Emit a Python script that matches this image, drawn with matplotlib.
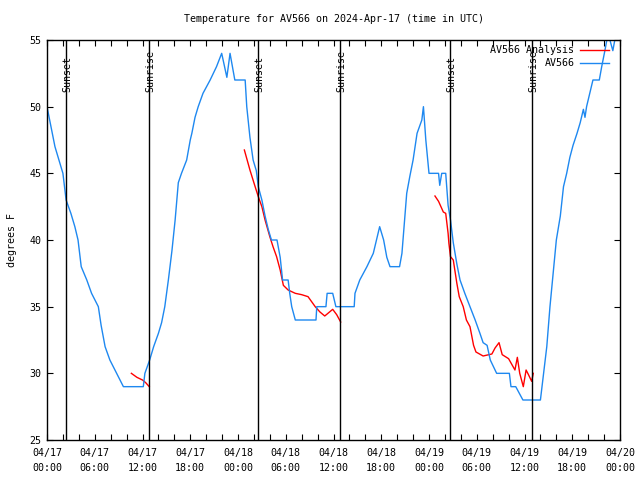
import matplotlib
matplotlib.use("Agg")
import matplotlib.pyplot as plt
import numpy as np

# hours since 2024-04-17 00:00 UTC
obs_hours = [0.0, 0.5, 1.0, 1.5, 2.0, 2.4, 3.0, 3.5, 3.9, 4.3, 5.0, 5.6, 6.45, 6.8, 7.3, 7.9, 8.75, 9.6,
             12.1, 12.3, 12.9, 13.4, 14.0, 14.4, 14.8, 15.25, 15.7, 16.1, 16.5, 16.9, 17.55, 18.0, 18.2,
             18.6, 19.0, 19.6, 20.5, 21.3, 21.95, 22.6, 23.0, 23.6, 24.9, 25.1, 25.5, 25.9, 26.3, 26.55,
             27.0, 27.4, 27.8, 28.2, 28.9, 29.3, 29.6, 30.3, 30.5, 30.75, 31.2, 33.8, 33.9, 35.05, 35.2,
             35.9, 36.3, 38.6, 38.7, 39.3, 40.2, 41.0, 41.4, 41.8, 42.3, 42.7, 43.1, 44.3, 44.6, 44.9,
             45.2, 45.6, 46.0, 46.5, 47.1, 47.3, 47.6, 48.0, 49.2, 49.35, 49.6, 50.1, 50.4, 50.7, 51.05,
             51.5, 51.9, 52.5, 53.15, 53.8, 54.4, 54.8, 55.3, 55.7, 56.5, 58.1, 58.3, 58.9, 59.8, 62.0,
             62.4, 62.8, 63.2, 63.6, 64.0, 64.5, 64.9, 65.3, 65.7, 66.1, 66.6, 67.0, 67.4, 67.6, 67.8,
             68.2, 68.6, 69.4, 69.7, 70.1, 70.5, 71.1, 71.5, 72.0]
obs_temp = [50.0, 48.5, 47.0, 46.0, 45.0, 43.0, 42.0, 41.0, 40.0, 38.0, 37.0, 36.0, 35.0, 33.6, 32.0, 31.0, 30.0, 29.0,
            29.0, 30.0, 31.0, 32.0, 33.0, 33.8, 35.0, 37.0, 39.2, 41.5, 44.3, 45.0, 46.0, 47.5, 48.0,
            49.2, 50.0, 51.0, 52.0, 53.0, 54.0, 52.2, 54.0, 52.0, 52.0, 50.0, 47.7, 46.0, 45.2, 44.0,
            43.0, 41.8, 40.8, 40.0, 40.0, 38.7, 37.0, 37.0, 36.0, 35.0, 34.0, 34.0, 35.0, 35.0, 36.0,
            36.0, 35.0, 35.0, 36.0, 37.0, 38.0, 39.0, 40.0, 41.0, 40.0, 38.7, 38.0, 38.0, 39.0, 41.2,
            43.5, 44.8, 46.0, 48.0, 49.0, 50.0, 47.5, 45.0, 45.0, 44.1, 45.0, 45.0, 42.6, 41.5, 39.8,
            38.2, 37.0, 36.0, 35.0, 34.0, 33.0, 32.3, 32.1, 31.0, 30.0, 30.0, 29.0, 29.0, 28.0, 28.0,
            30.0, 32.0, 35.0, 37.5, 40.0, 41.8, 44.0, 45.0, 46.2, 47.1, 48.0, 48.8, 49.8, 49.2, 50.0,
            51.0, 52.0, 52.0, 53.0, 54.2, 55.5, 54.2, 55.5, 56.0]

ana1_hours = [10.6, 11.3, 12.0, 12.4, 12.85]
ana1_temp = [30.0, 29.7, 29.5, 29.3, 29.0]
ana2_hours = [24.8, 25.5, 26.1, 26.55, 27.0, 27.4, 28.0, 28.4, 28.85, 29.3, 29.7, 30.3, 31.2, 32.0,
              32.8, 33.7, 34.3, 34.9, 35.9, 36.4, 36.9]
ana2_temp = [46.75, 45.25, 44.1, 43.25, 42.5, 41.5, 40.25, 39.5, 38.75, 37.75, 36.6, 36.25, 36.0, 35.9,
             35.75, 35.0, 34.6, 34.3, 34.8, 34.4, 33.85]
ana3_hours = [48.75, 49.2, 49.8, 50.1, 50.4, 50.5, 50.7, 51.05, 51.5, 51.8, 52.3, 52.7, 53.15, 53.6, 53.9,
              54.8, 55.9, 56.3, 56.8, 57.2, 58.0, 58.8, 59.1, 59.4, 59.85, 60.2, 60.5, 60.9, 61.1]
ana3_temp = [43.3, 42.9, 42.1, 42.0, 40.5, 39.75, 38.75, 38.5, 36.75, 35.75, 35.0, 34.0, 33.5, 32.1, 31.6,
             31.3, 31.45, 31.9, 32.3, 31.4, 31.1, 30.25, 31.2, 30.0, 29.0, 30.25, 29.9, 29.4, 30.0]

sun_hours = [2.43, 12.82, 26.55, 36.82, 50.68, 60.99]
sun_labels = ["Sunset", "Sunrise", "Sunset", "Sunrise", "Sunset", "Sunrise"]

xtick_hours = [0, 6, 12, 18, 24, 30, 36, 42, 48, 54, 60, 66, 72]
xtick_labels = ["04/17\n00:00", "04/17\n06:00", "04/17\n12:00", "04/17\n18:00",
                "04/18\n00:00", "04/18\n06:00", "04/18\n12:00", "04/18\n18:00",
                "04/19\n00:00", "04/19\n06:00", "04/19\n12:00", "04/19\n18:00",
                "04/20\n00:00"]
ytick_vals = [25, 30, 35, 40, 45, 50, 55]

plt.rcParams['font.family'] = ['DejaVu Sans Mono']
FS = 7.2

fig = plt.figure(figsize=(6.4, 4.8), dpi=100)
ax = fig.add_axes([47/640, 1-440/480, (620-47)/640, 400/480])

blue = '#1E88F0'
ax.plot(ana1_hours, ana1_temp, color='#ff0000', lw=1.0, label='AV566 Analysis')
ax.plot(ana2_hours, ana2_temp, color='#ff0000', lw=1.0)
ax.plot(ana3_hours, ana3_temp, color='#ff0000', lw=1.0)
ax.plot(obs_hours, obs_temp, color=blue, lw=1.0, label='AV566')

for h, lab in zip(sun_hours, sun_labels):
    ax.axvline(h, color='black', lw=1.0)
    ax.text(h + 0.15, 51.1, lab, rotation=90, ha='center', va='bottom', fontsize=FS)

ax.set_xlim(0, 72)
ax.set_ylim(25, 55)
ax.set_xticks(xtick_hours)
ax.set_xticklabels(xtick_labels, fontsize=FS, linespacing=1.55)
ax.set_xticks(np.arange(0, 73, 2), minor=True)
ax.set_yticks(ytick_vals)
ax.set_yticklabels([str(v) for v in ytick_vals], fontsize=FS)
ax.tick_params(which='both', direction='in', top=True, right=True, length=4, width=0.8, pad=4)
ax.tick_params(axis='x', which='major', pad=6)
for s in ax.spines.values():
    s.set_linewidth(1.0)

ax.set_ylabel('degrees F', fontsize=FS, labelpad=9)
ax.set_title('Temperature for AV566 on 2024-Apr-17 (time in UTC)', fontsize=FS, pad=13)

leg = ax.legend(loc='upper right', markerfirst=False, frameon=False, fontsize=FS,
                handlelength=2.9, borderaxespad=0.15, labelspacing=0.3, handletextpad=0.6,
                bbox_to_anchor=(0.991, 1.0))
for t in leg.get_texts():
    t.set_ha('right')

fig.savefig('out.png', dpi=100)
